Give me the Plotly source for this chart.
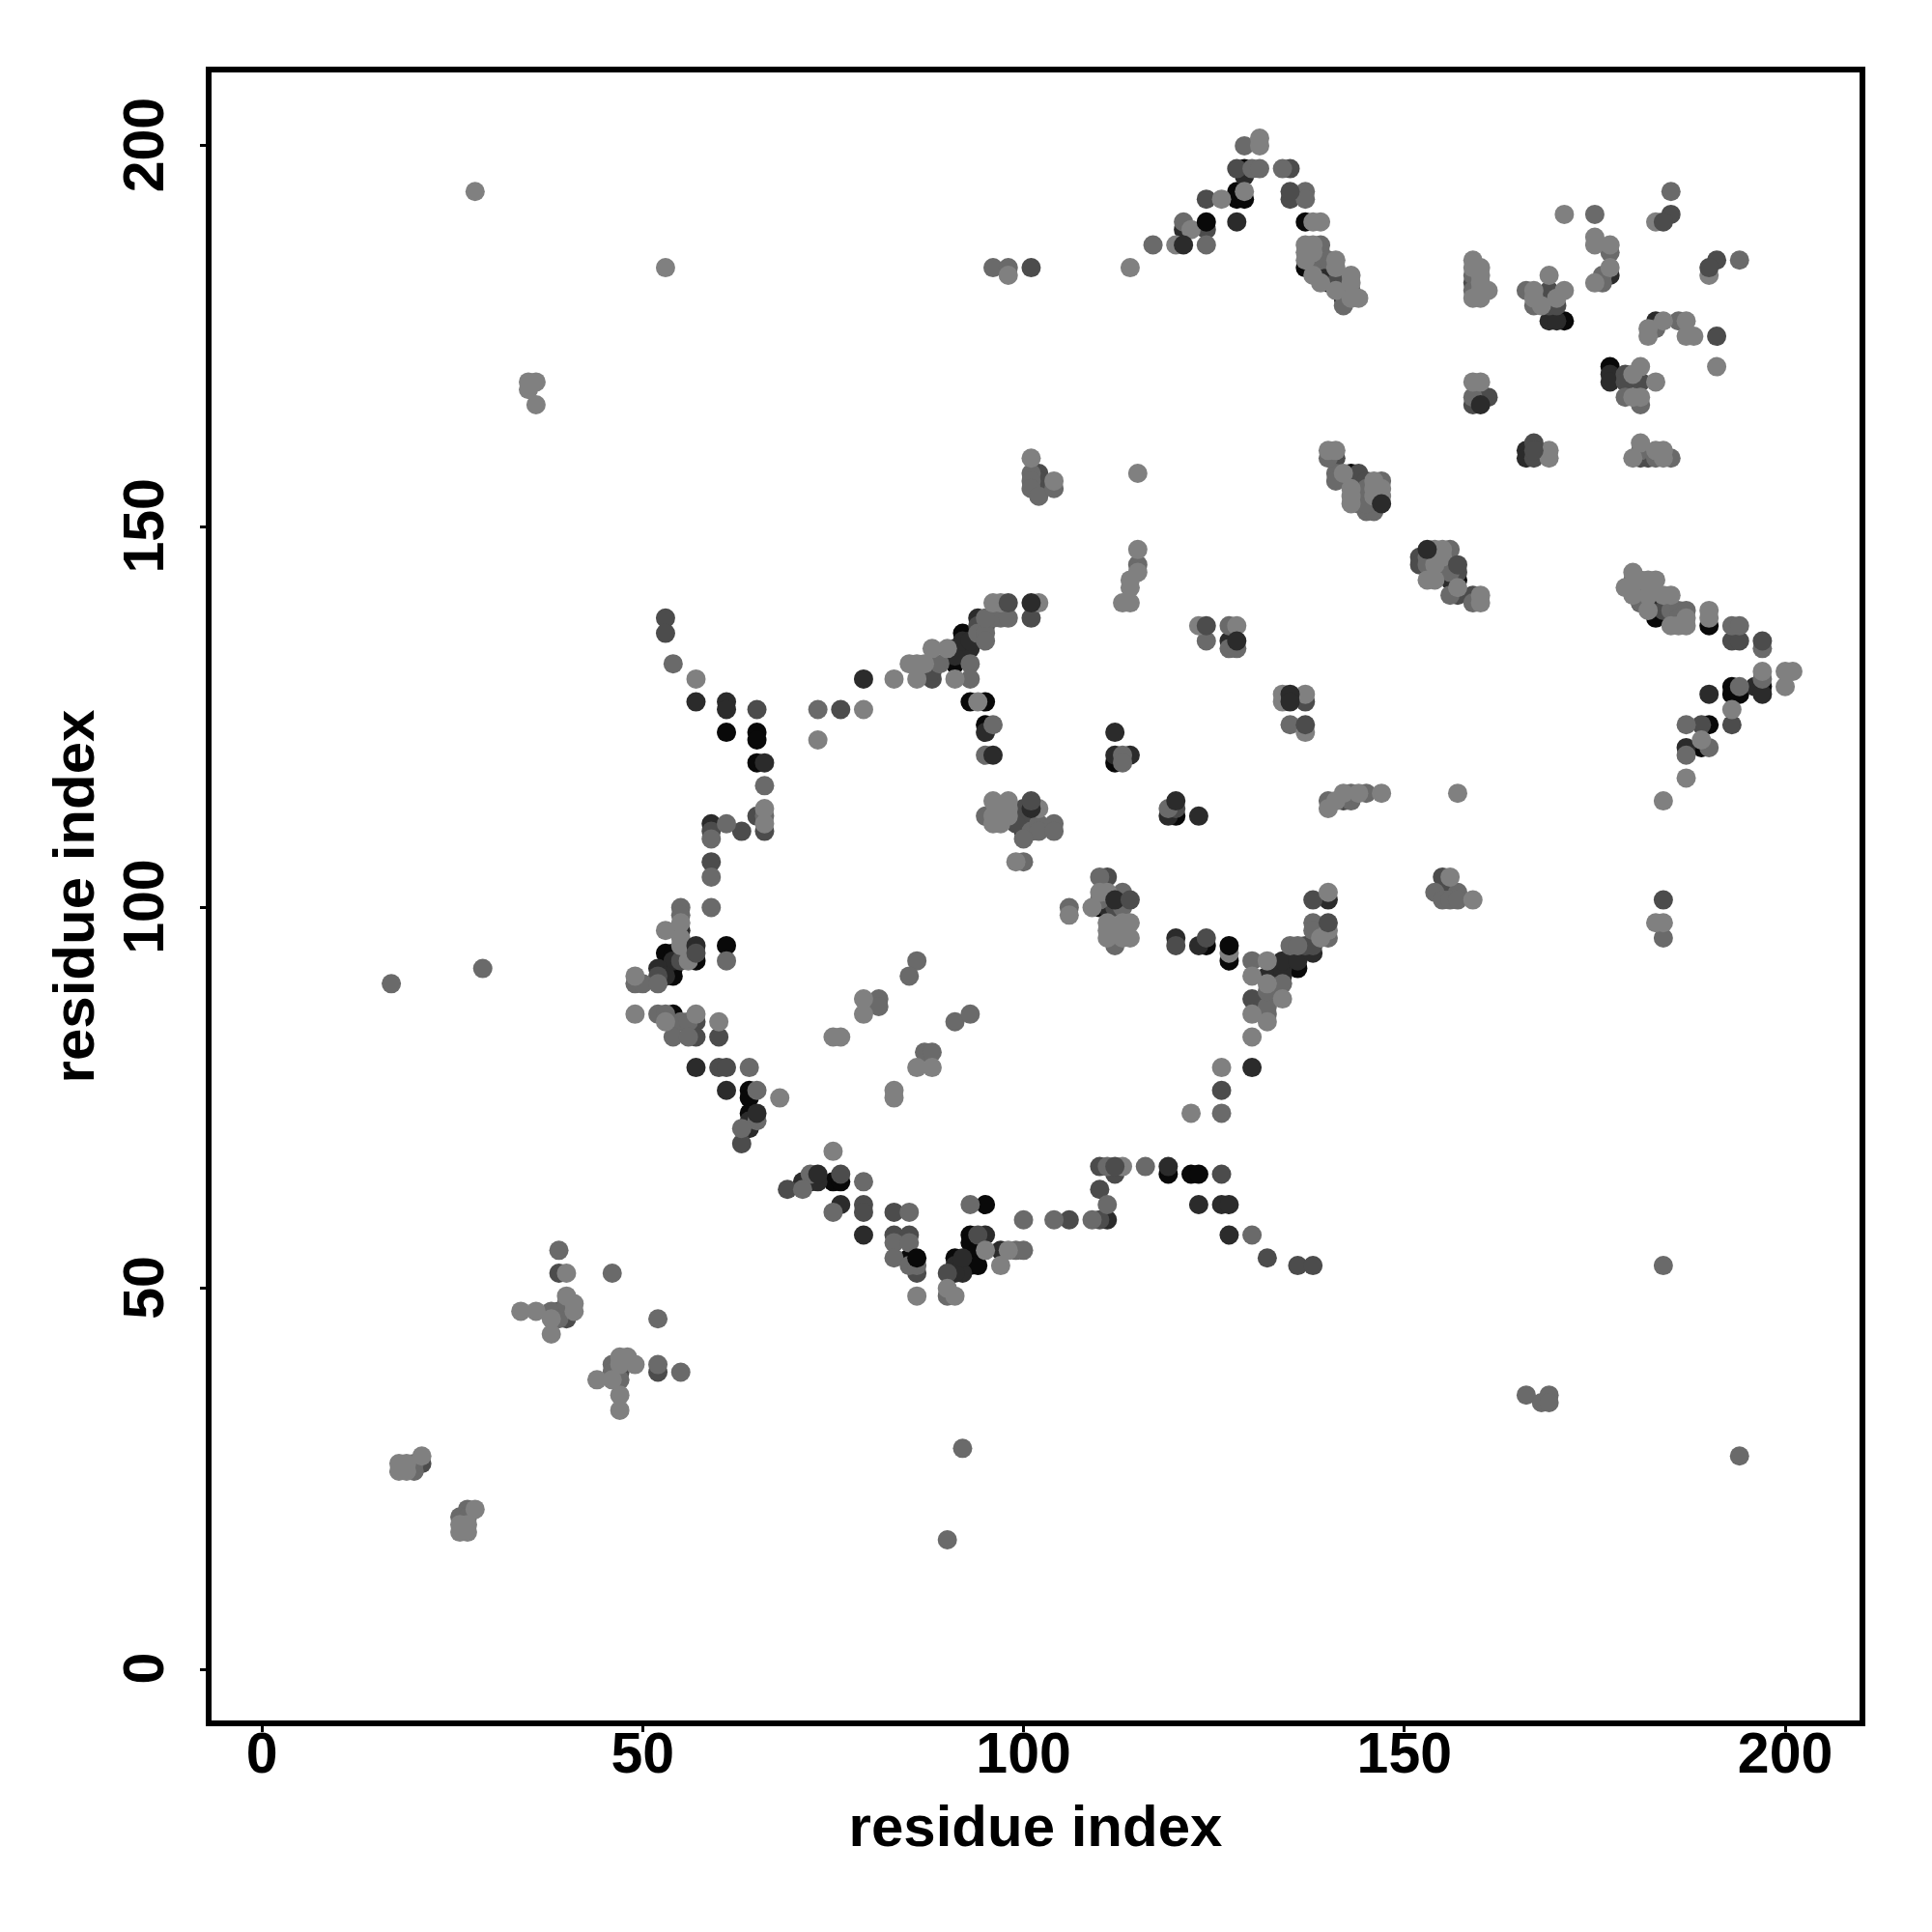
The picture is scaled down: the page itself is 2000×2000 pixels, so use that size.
import plotly.graph_objects as go

tick_vals = [0, 50, 100, 150, 200]
axis_title = "residue index"

# contacts (residue i, residue j) grouped by grey level
contacts_light = [(57,130),(53,97),(55,98),(55,96),(55,95),(56,93),(49,91),(49,86),(57,86),(53,85),(60,85),(66,113),(66,111),(73,122),(79,126),(83,130),(86,130),(85,132),(86,132),(87,132),(88,134),(90,134),(91,130),(94,127),(96,140),(97,140),(102,140),(96,114),(98,114),(96,111),(96,112),(97,111),(97,113),(98,113),(98,112),(102,113),(99,106),(75,68),(68,75),(75,83),(76,83),(79,88),(79,86),(83,76),(83,75),(86,79),(88,79),(86,49),(90,50),(91,49),(95,55),(98,55),(97,53),(113,66),(122,73),(126,79),(130,83),(130,86),(132,85),(132,90),(130,91),(132,93),(134,88),(139,96),(140,97),(140,102),(127,94),(106,99),(110,102),(111,102),(109,100),(111,97),(113,98),(114,98),(111,96),(113,96),(114,96),(112,97),(111,98),(140,113),(141,114),(142,115),(144,115),(147,115),(157,115),(184,114),(187,117),(189,122),(193,126),(200,131),(201,131),(200,129),(197,131),(190,139),(190,138),(185,137),(186,137),(187,137),(187,138),(184,141),(185,141),(182,141),(182,139),(180,141),(180,144),(179,142),(181,143),(182,143),(183,143),
(114,184),(120,187),(122,189),(126,193),(129,194),(131,200),(131,201),(138,190),(139,190),(137,187),(138,187),(137,186),(137,185),(138,186),(141,185),(141,184),(138,183),(139,182),(141,181),(143,183),(143,182),(143,180),(144,180),(115,157),(159,185),(159,184),(160,184),(160,183),(160,182),(160,181),(159,180),(160,180),(161,181),(159,169),(160,169),(140,160),(141,160),(142,157),(143,155),(143,154),(143,153),(146,156),(146,155),(146,154),(147,155),(147,154),(115,147),(115,144),(114,143),(114,142),(113,140),(114,140),
(154,147),(155,147),(153,143),(154,143),(154,145),(155,146),(157,142),(160,141),(160,140),(169,160),(169,159),(181,161),(180,159),(183,160),(184,160),(184,159),(156,104),(159,101),(184,98),(183,98),
(171,191),(175,188),(175,187),(177,187),(177,184),(175,182),(183,190),(190,183),(169,183),(167,181),(171,181),(167,180),(168,179),(170,180),(184,177),(182,176),(182,175),(187,177),(187,175),(188,175),(191,171),(181,171),(180,170),(183,169),(180,167),(181,167),
(34,47),(36,47),(38,46),(40,49),(41,48),(41,47),(38,44),(40,52),(47,41),(48,41),(49,40),(47,40),(44,38),(46,38),(47,36),(47,34),(18,27),(19,27),(18,26),(19,26),(21,28),(28,21),(26,19),(27,19),(26,18),(27,18),(28,194),(53,184),(35,169),(36,169),(35,168),(36,166),(98,183),(101,159),(104,156),(123,137),(128,137),(134,128),(134,127),(137,128),(137,123)]

contacts_mid = [(54,132),(66,116),(66,112),(61,111),(59,109),(59,104),(59,100),(55,100),(55,99),(61,93),(49,90),(50,90),(52,90),(52,86),(53,86),(55,85),(56,85),(54,83),(56,83),(73,126),(89,132),(93,132),(93,130),(94,136),(95,136),(95,135),(96,138),(97,138),(98,138),(95,138),(96,124),(95,120),(95,112),(101,110),(102,111),(102,110),(104,111),(104,110),(100,109),(100,106),(64,79),(65,76),(65,72),(63,71),(72,65),(71,63),(79,64),(75,60),(85,60),(83,56),(85,56),(83,54),(85,53),(86,53),(90,49),(99,55),(100,55),(93,61),(100,59),(104,59),(109,59),(111,61),(111,66),(116,66),(130,57),(126,73),(132,86),(132,87),(132,89),(130,93),(134,90),(135,95),(136,95),(138,98),(138,97),(140,96),(106,100),(110,104),(110,101),(113,100),(113,102),(112,95),(119,113),(140,114),(143,114),(143,115),(145,115),(113,120),(113,119),(135,124),(124,135),(127,134),(128,134),(187,124),(190,121),(187,120),(194,129),(193,137),(194,137),(197,134),(197,130),(154,102),(157,102),(155,101),(156,101),(157,101),(184,96),(184,53),(194,28),(17,90),(29,92),(90,17),(92,29),(166,36),(168,35),(169,36),(169,35),
(139,185),(139,186),(139,187),(140,185),(143,181),(142,179),(117,187),(121,190),(124,187),(130,197),(131,197),(134,197),(137,194),(137,193),(175,191),(159,183),(159,181),(159,167),(141,157),(141,156),(140,159),(145,152),(146,152),(144,153),(145,153),(145,155),(147,156),(115,145),(153,146),(153,145),(155,145),(156,147),(156,144),(156,141),(159,140),(180,143),(181,140),(183,159),(185,159),(181,160),(185,139),(186,139),(187,139),(186,138),(129,200),
(177,186),(176,183),(176,182),(185,194),(194,185),(166,181),(167,179),(183,176),(186,177),(179,167),(181,166),
(39,55),(46,52),(38,47),(39,46),(40,48),(52,46),(46,40),(46,39),(47,38),(52,40),(55,39),(20,26),(20,27),(27,21),(26,20),(27,20),
(96,184),(98,184),(101,157),(101,156),(101,155),(102,154),(104,155),(91,85),(93,86),(86,93),(85,91),(87,81),(88,81),(81,88),(81,87),(127,137)]

contacts_dark = [(53,138),(53,136),(65,126),(65,112),(66,110),(59,110),(59,106),(57,94),(55,93),(52,91),(57,85),(57,83),(60,83),(76,126),(88,130),(88,131),(94,137),(95,137),(98,140),(101,138),(100,113),(101,114),(100,112),(99,112),(99,111),(63,110),(63,69),(60,79),(61,79),(76,65),(69,63),(79,61),(79,60),(83,60),(83,57),(85,57),(86,52),(90,52),(94,57),(106,59),(110,59),(110,63),(110,66),(112,66),(112,65),(126,65),(132,54),(136,53),(138,53),(126,76),(130,88),(137,95),(138,95),(138,101),(140,98),(111,104),(112,100),(114,101),(120,95),(124,96),(120,113),(142,114),(137,124),(124,137),(137,127),(189,124),(193,124),(193,135),(194,135),(197,135),(155,104),(155,102),(184,101),(39,47),(40,46),(39,52),(47,39),(52,39),(21,27),(101,184),
(124,193),(135,197),(135,194),(135,193),(128,197),(124,189),(138,185),(141,182),(159,182),(160,167),(159,166),(161,167),(141,159),(144,157),(145,156),(145,154),(146,153),(102,157),(102,156),(102,155),(152,146),(152,145),(156,145),(157,145),(157,144),(157,141),(159,141),(167,161),(167,160),(167,159),(181,159),(182,159),(184,139),(185,191),(184,190),(191,185),(190,184),(169,181),(169,179),(170,179),(191,175),(179,170),(179,169),(181,169)]

contacts_darker = [(57,127),(61,127),(61,126),(66,119),(59,111),(55,97),(57,95),(54,93),(52,92),(53,91),(79,130),(91,134),(92,134),(93,134),(91,133),(92,135),(93,135),(94,138),(95,123),(96,120),(101,140),(101,113),(101,112),(100,110),(57,79),(61,76),(65,73),(64,72),(64,71),(73,65),(71,64),(72,64),(73,64),(76,61),(79,57),(91,53),(92,52),(91,52),(95,57),(92,54),(97,55),(111,59),(119,66),(123,61),(126,61),(127,61),(127,57),(130,79),(132,88),(132,91),(134,91),(134,92),(134,93),(136,93),(138,94),(140,101),(120,96),(123,95),(111,100),(112,101),(113,101),(112,123),(112,120),(114,120),(119,112),(120,114),(123,112),(128,135),(127,135),(135,128),(135,127),(187,121),(190,128),(196,129),(197,128),(156,102),(121,187),(121,189),(128,190),(129,196),(138,184),(140,184),(142,181),(160,166),(143,156),(147,153),(153,147),(156,143),(166,160),(166,159),(180,142),(181,142),(182,140),(183,140),(177,183),(169,177),(170,177),(183,177),(177,170),(177,169)]

contacts_black = [(61,123),(65,123),(65,122),(65,119),(53,94),(54,94),(53,92),(54,92),(54,91),(57,93),(61,95),(54,86),(54,85),(91,132),(92,136),(93,127),(95,127),(95,124),(100,111),(64,76),(64,75),(64,73),(75,64),(76,64),(85,54),(86,54),(91,54),(92,53),(93,57),(93,56),(94,55),(93,53),(94,53),(95,61),(119,65),(122,65),(123,65),(127,95),(127,93),(136,92),(124,95),(110,100),(120,112),(112,119),(124,190),(128,194),(128,193),(129,193),(129,197),(137,190),(137,184),(140,183),(140,182),(142,182),(142,180),(143,157),(157,143),(181,141),(181,140),(183,139),(183,138),(190,137),(193,129),(193,128),(194,128),(197,129),(190,124),(189,121),(171,177),(177,171)]

# contacts painted last, over their neighbours
painted_last = {(98,140),(65,73),(57,95),(101,113),(128,135),(135,128),(135,127),(124,137),(137,124),(96,120),
                (73,65),(76,65),(61,76),(112,101),(114,101),(121,187),(120,114),(140,98),(197,135),(191,185),
                (190,184),(160,166),(153,147),(157,145),(147,153),(124,190),(127,95),(101,114),(57,94),(86,54),
                (124,96),(135,194),(112,66),(185,191),(184,190),(167,161),(167,160),(128,190),(101,140),(190,128)}

groups = [(contacts_black, "#090909"), (contacts_darker, "#2b2b2b"),
          (contacts_dark, "#4c4c4c"), (contacts_mid, "#6a6a6a"), (contacts_light, "#808080")]

fig = go.Figure()
def add(pts, col):
    fig.add_trace(go.Scatter(x=[p[0] for p in pts], y=[p[1] for p in pts], mode="markers",
                             marker=dict(size=20, color=col, line=dict(width=0)),
                             showlegend=False, cliponaxis=False))
for pts, col in groups:
    add([p for p in pts if p not in painted_last], col)
for pts, col in groups:
    add([p for p in pts if p in painted_last], col)

font = dict(family="Liberation Sans", size=60, color="black", weight="bold")
tick_font = dict(family="Liberation Sans", size=59, color="black", weight="bold")
axis = dict(tickvals=tick_vals, ticks="outside", ticklen=6, tickwidth=3, tickcolor="black",
            showline=True, mirror=True, linewidth=6, linecolor="black",
            showgrid=False, zeroline=False, tickfont=tick_font)
fig.update_layout(width=1992, height=1992, paper_bgcolor="white", plot_bgcolor="white",
                  margin=dict(l=211, r=75, t=67, b=219),
                  xaxis=dict(range=[-6.6, 209.76], ticklabelstandoff=-29,
                             title=dict(text=axis_title, font=font, standoff=24), **axis),
                  yaxis=dict(range=[-6.72, 209.63], ticklabelstandoff=14, ticklabelshift=8, tickangle=-90,
                             title=dict(text=axis_title, font=font, standoff=1), **axis))
fig.write_html("out.html")
